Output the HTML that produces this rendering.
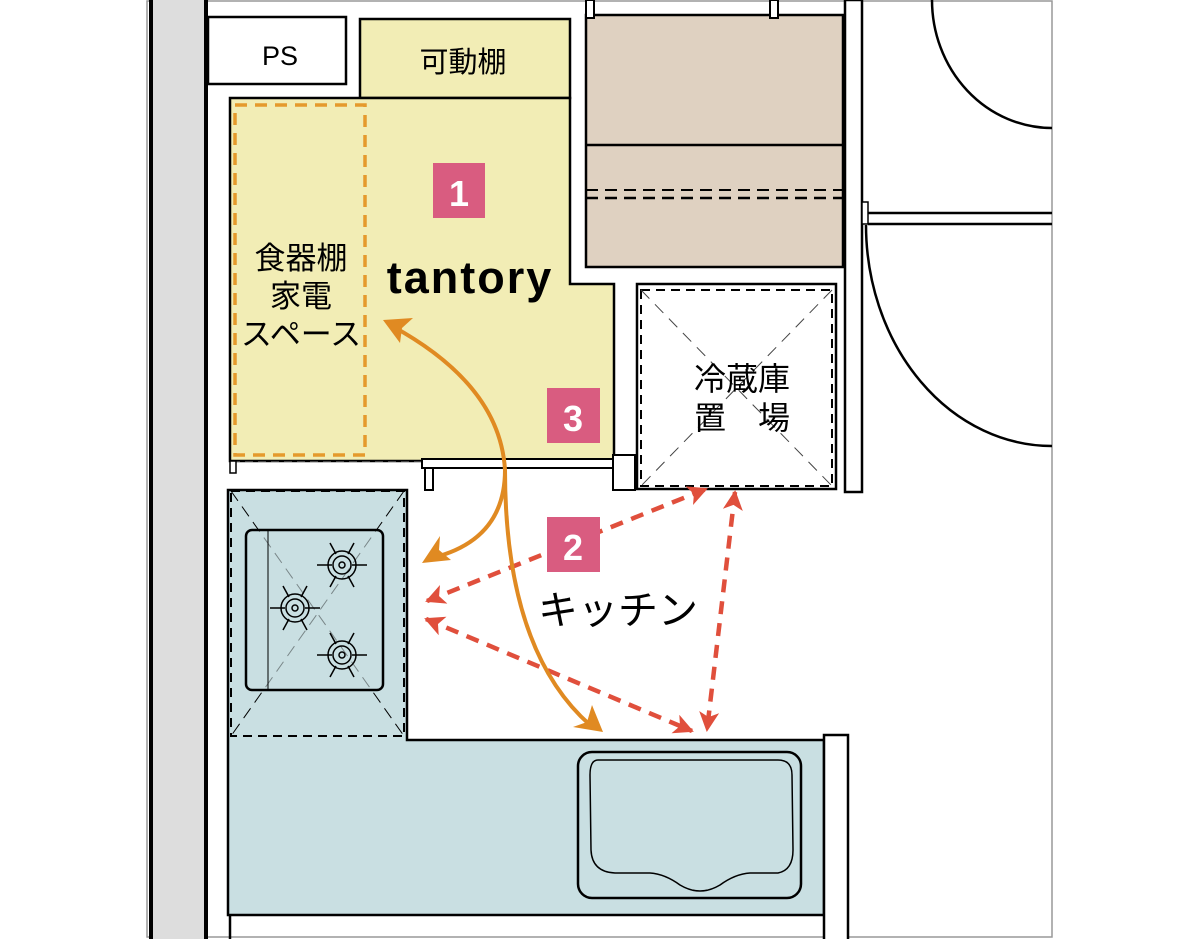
<!DOCTYPE html>
<html><head><meta charset="utf-8"><style>
html,body{margin:0;padding:0;background:#fff}
svg{display:block}
text{font-family:"Liberation Sans","Noto Sans CJK JP",sans-serif}
</style></head><body>
<svg width="1200" height="939" viewBox="0 0 1200 939" xmlns="http://www.w3.org/2000/svg">
<defs>
<marker id="ra" viewBox="0 0 10 10" refX="9" refY="5" markerWidth="22" markerHeight="20" orient="auto-start-reverse" markerUnits="userSpaceOnUse"><path d="M0,0 L10,5 L0,10 L2.5,5z" fill="#e04f3c"/></marker>
</defs>
<!-- frame -->
<rect x="147" y="1" width="905" height="936" fill="none" stroke="#999" stroke-width="1.5"/>
<!-- left wall -->
<rect x="150" y="0" width="55" height="939" fill="#ddd"/>
<line x1="151" y1="0" x2="151" y2="939" stroke="#000" stroke-width="4"/>
<line x1="206" y1="0" x2="206" y2="939" stroke="#000" stroke-width="4"/>
<!-- PS -->
<rect x="208" y="17" width="138" height="67" fill="#fff" stroke="#000" stroke-width="2.5"/>
<text x="280" y="65" font-size="27" text-anchor="middle">PS</text>
<!-- shelf -->
<rect x="360" y="19" width="210" height="79" fill="#f2edb5" stroke="#000" stroke-width="2.5"/>
<text x="463" y="72" font-size="29" text-anchor="middle">可動棚</text>
<!-- tantory -->
<path d="M230,98 L570,98 L570,284 L614,284 L614,461 L230,461 Z" fill="#f2edb5" stroke="#000" stroke-width="2.5"/>
<line x1="232" y1="462" x2="425" y2="462" stroke="#888" stroke-width="1" stroke-dasharray="8,5"/>
<rect x="235" y="105" width="130" height="350" fill="none" stroke="#e59a2c" stroke-width="3.5" stroke-dasharray="12,8"/>
<text x="301" y="269" font-size="31" text-anchor="middle">食器棚</text>
<text x="301" y="307" font-size="31" text-anchor="middle">家電</text>
<text x="301" y="345" font-size="31" text-anchor="middle">スペース</text>
<text x="470" y="293" font-size="45" font-weight="bold" text-anchor="middle" letter-spacing="2">tantory</text>
<!-- threshold -->
<rect x="230" y="461" width="6" height="12" fill="#fff" stroke="#000" stroke-width="1.5"/>
<rect x="422" y="459" width="192" height="9" fill="#fff" stroke="#000" stroke-width="2"/>
<rect x="425" y="468" width="8" height="22" fill="#fff" stroke="#000" stroke-width="2"/>
<rect x="613" y="455" width="22" height="35" fill="#fff" stroke="#000" stroke-width="2"/>
<!-- closet -->
<rect x="586" y="15" width="257" height="252" fill="#dfd1c1" stroke="#000" stroke-width="2.5"/>
<rect x="586" y="0" width="8" height="18" fill="#fff" stroke="#000" stroke-width="2"/>
<rect x="770" y="0" width="8" height="18" fill="#fff" stroke="#000" stroke-width="2"/>
<line x1="586" y1="145" x2="843" y2="145" stroke="#000" stroke-width="2.5"/>
<line x1="586" y1="190" x2="843" y2="190" stroke="#000" stroke-width="2" stroke-dasharray="12,7"/>
<line x1="586" y1="198" x2="843" y2="198" stroke="#000" stroke-width="2.5" stroke-dasharray="12,7"/>
<!-- right wall -->
<rect x="845" y="0" width="17" height="492" fill="#fff" stroke="#000" stroke-width="2.5"/>
<rect x="862" y="202" width="6" height="22" fill="#fff" stroke="#000" stroke-width="1.5"/>
<line x1="868" y1="213" x2="1052" y2="213" stroke="#000" stroke-width="2.5"/>
<line x1="868" y1="224" x2="1052" y2="224" stroke="#000" stroke-width="2.5"/>
<path d="M932,0 A120,128 0 0 0 1052,128" fill="none" stroke="#000" stroke-width="2.5"/>
<path d="M866,225 A186,221 0 0 0 1052,446" fill="none" stroke="#000" stroke-width="2.5"/>
<!-- fridge -->
<rect x="637" y="284" width="199" height="205" fill="#fff" stroke="#000" stroke-width="2.5"/>
<rect x="641" y="290" width="191" height="196" fill="none" stroke="#000" stroke-width="2" stroke-dasharray="9,6"/>
<line x1="641" y1="290" x2="832" y2="486" stroke="#444" stroke-width="1" stroke-dasharray="12,8"/>
<line x1="832" y1="290" x2="641" y2="486" stroke="#444" stroke-width="1" stroke-dasharray="12,8"/>
<text x="742" y="390" font-size="32" text-anchor="middle">冷蔵庫</text>
<text x="742" y="429" font-size="32" text-anchor="middle">置　場</text>
<!-- counter -->
<path d="M228,490 L407,490 L407,740 L824,740 L824,915 L228,915 Z" fill="#c9dfe2" stroke="#000" stroke-width="2.5"/>
<line x1="230" y1="915" x2="230" y2="939" stroke="#000" stroke-width="2.5"/>
<rect x="824" y="735" width="24" height="210" fill="#fff" stroke="#000" stroke-width="2.5"/>
<!-- stove -->
<rect x="231" y="491" width="173" height="245" fill="none" stroke="#000" stroke-width="2" stroke-dasharray="9,6"/>
<line x1="231" y1="491" x2="404" y2="736" stroke="#000" stroke-width="1" stroke-dasharray="12,7"/>
<line x1="404" y1="491" x2="231" y2="736" stroke="#000" stroke-width="1" stroke-dasharray="12,7"/>
<rect x="246" y="530" width="137" height="160" rx="6" fill="#c9dfe2" stroke="#000" stroke-width="2.5" fill-opacity="0.6"/>
<line x1="268" y1="530" x2="268" y2="690" stroke="#000" stroke-width="1"/>
<g fill="none" stroke="#000" stroke-width="1.5">
<g transform="translate(342,565)"><circle r="14"/><circle r="9"/><circle r="3"/><path d="M-25,0H-10M10,0H25M-12,-22L-6,-11M12,-22L6,-11M-12,22L-6,11M12,22L6,11"/></g>
<g transform="translate(295,608)"><circle r="14"/><circle r="9"/><circle r="3"/><path d="M-25,0H-10M10,0H25M-12,-22L-6,-11M12,-22L6,-11M-12,22L-6,11M12,22L6,11"/></g>
<g transform="translate(342,655)"><circle r="14"/><circle r="9"/><circle r="3"/><path d="M-25,0H-10M10,0H25M-12,-22L-6,-11M12,-22L6,-11M-12,22L-6,11M12,22L6,11"/></g>
</g>
<!-- sink -->
<rect x="578" y="752" width="223" height="146" rx="14" fill="none" stroke="#000" stroke-width="2.5"/>
<path d="M598,760 Q590,760 590,775 L591,850 Q592,872 615,873 L650,873 Q665,874 680,885 Q700,897 720,885 Q735,874 750,873 L778,873 Q793,870 793,850 L792,775 Q792,760 778,760 Z" fill="none" stroke="#000" stroke-width="1.5"/>
<!-- red dashed arrows -->
<g stroke="#e04f3c" stroke-width="4.5" stroke-dasharray="13,9" fill="none">
<line x1="427" y1="601" x2="706" y2="489" marker-start="url(#ra)" marker-end="url(#ra)"/>
<line x1="426" y1="619" x2="692" y2="731" marker-start="url(#ra)" marker-end="url(#ra)"/>
<line x1="735" y1="492" x2="707" y2="730" marker-start="url(#ra)" marker-end="url(#ra)"/>
</g>
<!-- orange arrows -->
<g stroke="#e08a22" stroke-width="4" fill="none">
<path d="M392,326 Q500,385 505,470 Q505,540 432,558"/>
<path d="M505,470 Q505,650 590,725"/>
</g>
<path d="M383,320 L413,318 L402,328 L400,343 Z" fill="#e08a22"/>
<path d="M422,563 L440,536 L439,550 L451,560 Z" fill="#e08a22"/>
<path d="M603,732 L573,727 L587,722 L592,705 Z" fill="#e08a22"/>
<text x="618" y="624" font-size="40" text-anchor="middle">キッチン</text>
<!-- badges -->
<rect x="433" y="163" width="52" height="55" fill="#d95c80"/><text x="459" y="206" font-size="36" fill="#fff" text-anchor="middle" font-weight="bold">1</text>
<rect x="547" y="388" width="53" height="55" fill="#d95c80"/><text x="573" y="431" font-size="36" fill="#fff" text-anchor="middle" font-weight="bold">3</text>
<rect x="547" y="517" width="53" height="55" fill="#d95c80"/><text x="573" y="560" font-size="36" fill="#fff" text-anchor="middle" font-weight="bold">2</text>
</svg>
</body></html>
